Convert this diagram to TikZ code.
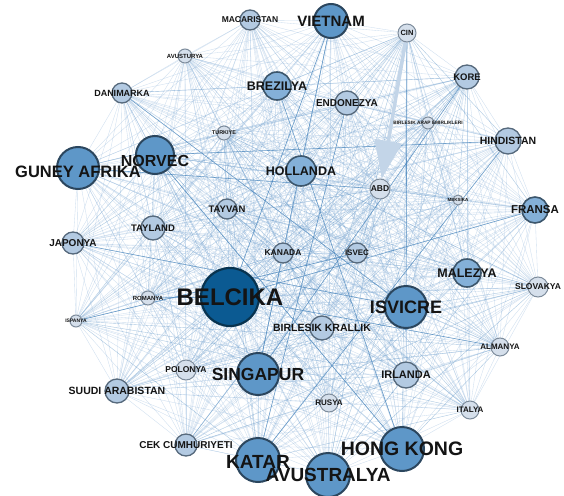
\documentclass[tikz,border=0pt]{standalone}
\usepackage{fontspec}
\setmainfont{Liberation Sans}
\usetikzlibrary{arrows.meta,backgrounds}
\definecolor{edgeblue}{HTML}{86AFD8}
\definecolor{edgemid}{HTML}{5C93C6}
\definecolor{edgedark}{HTML}{3F7FB8}
\definecolor{triblue}{HTML}{C3D5E8}
\definecolor{fa}{HTML}{D5DFEB}
\definecolor{fb}{HTML}{B3CAE2}
\definecolor{fc}{HTML}{84B0D8}
\definecolor{fd}{HTML}{5E97C8}
\definecolor{fe}{HTML}{0B5A92}
\definecolor{ba}{HTML}{7D8C9C}
\definecolor{bb}{HTML}{56697C}
\definecolor{bc}{HTML}{3C566C}
\definecolor{bd}{HTML}{2B465E}
\definecolor{be}{HTML}{08334F}

% name/x/y/radius/style/font size/label shift/text
\def\countries{MAC/250/20/10/n2/8.5/0/MACARISTAN,
  VIE/331/21/17/n4/15/0/VIETNAM,
  CIN/407/33/9/n1/7.5/0/CIN,
  AVU/185/56/7/n1/6/0/AVUSTURYA,
  BRE/277/86/14/n3/12.5/0/BREZILYA,
  KOR/467/77/12/n2/9.5/0/KORE,
  DAN/122/93/10/n2/9/0/DANIMARKA,
  END/347/103/12/n2/10/0/ENDONEZYA,
  TUR/224/133/7/n1/5.5/0/TURKIYE,
  BAE/428/123/6/n1/4.8/0/BIRLESIK ARAP EMIRLIKLERI,
  HIN/508/141/13/n2/10.5/0/HINDISTAN,
  NOR/155/155/19/n4/16/6/NORVEC,
  GUN/78/168/21/n4/16.5/4/GUNEY AFRIKA,
  HOL/301/171/15/n3/12.5/0/HOLLANDA,
  ABD/380/189/10/n1/8.5/0/ABD,
  MEK/458/200/5/n1/4.5/0/MEKSIKA,
  FRA/535/210/13/n3/11.5/0/FRANSA,
  TAYV/227/209/10/n2/9.5/0/TAYVAN,
  TAYL/153/228/12/n2/9.5/0/TAYLAND,
  JAP/73/243/11/n2/10/0/JAPONYA,
  KAN/283/253/10/n2/8.5/0/KANADA,
  ISV/357/253/10/n2/8/0/ISVEC,
  MAL/467/273/14/n3/12.5/0/MALEZYA,
  SLO/538/287/10/n1/8.5/0/SLOVAKYA,
  BEL/230/297/29/n5/24/0/BELCIKA,
  ROM/148/298/7/n1/6/0/ROMANYA,
  ISP/76/321/6/n1/5/0/ISPANYA,
  ISVI/406/307/21/n4/18/0/ISVICRE,
  BKR/322/328/12/n2/10.5/0/BIRLESIK KRALLIK,
  ALM/500/347/9/n1/8/0/ALMANYA,
  POL/186/370/10/n1/8.5/0/POLONYA,
  SIN/258/374/21/n4/17.5/0/SINGAPUR,
  IRL/406/375/13/n2/11/0/IRLANDA,
  SUU/117/391/12/n2/10.5/0/SUUDI ARABISTAN,
  RUS/329/403/9/n1/8/0/RUSYA,
  ITA/470/410/9/n1/8/0/ITALYA,
  CEK/186/445/11/n2/10/0/CEK CUMHURIYETI,
  HON/402/449/22/n4/19.5/0/HONG KONG,
  KAT/258/460/22/n4/19/2/KATAR,
  AVUS/328/475/22/n4/19/0/AVUSTRALYA}

\begin{document}
\begin{tikzpicture}[x=1pt,y=-1pt,
  nd/.style={circle,inner sep=0pt,line width=1.3pt},
  n1/.style={nd,draw=ba,fill=fa,line width=1pt},
  n2/.style={nd,draw=bb,fill=fb},
  n3/.style={nd,draw=bc,fill=fc,line width=1.6pt},
  n4/.style={nd,draw=bd,fill=fd,line width=2pt},
  n5/.style={nd,draw=be,fill=fe,line width=2.2pt},
  lbl/.style={text=black!92,inner sep=0pt},
  e/.style={edgeblue,line width=0.35pt,opacity=0.4},
  em/.style={edgemid,line width=0.4pt,opacity=0.5},
  ed/.style={edgedark,line width=0.6pt,opacity=0.7},
  tri/.style={triblue,line width=3.5pt,-{Triangle[length=38pt,width=27pt]}}]
\useasboundingbox (0,0) rectangle (564,495);
% countries
\foreach \nm/\x/\y/\r/\st/\fs/\dy/\txt in \countries
  \node[\st,minimum size=\r*2pt] (\nm) at (\x,\y) {};
\foreach \nm/\x/\y/\r/\st/\fs/\dy/\txt in \countries
  \node[lbl,font=\bfseries\fontsize{\fs}{\fs}\selectfont,yshift=-\dy pt]
    (l-\nm) at (\nm) {\txt};
% trade links
\begin{scope}[on background layer]
\fill[white] (0,0) rectangle (564,495);
\foreach \nm/\x/\y/\r/\st/\fs/\dy/\txt [count=\i] in \countries {
  \foreach \mm/\xx/\yy/\rr/\stt/\fss/\dyy/\txtt [count=\j] in \countries {
    \ifnum\j>\i
      \pgfmathtruncatemacro\k{mod(\i*7+\j*3,9)}
      \ifnum\k=0 \draw[em] (\nm) -- (\mm); \else \draw[e] (\nm) -- (\mm); \fi
    \fi
  }
}
\foreach \a/\b in {BEL/FRA,BEL/ALM,GUN/ABD,NOR/HIN,VIE/SIN,JAP/ISVI,ISP/ISV,
  ROM/BEL,CIN/ISVI,KOR/SIN,HON/NOR,KAT/HIN,END/KAT,BRE/HON,VIE/BEL,DAN/ISVI}
  \draw[ed] (\a) -- (\b);
\draw[tri] (CIN) -- (ABD);
\end{scope}
\end{tikzpicture}
\end{document}
